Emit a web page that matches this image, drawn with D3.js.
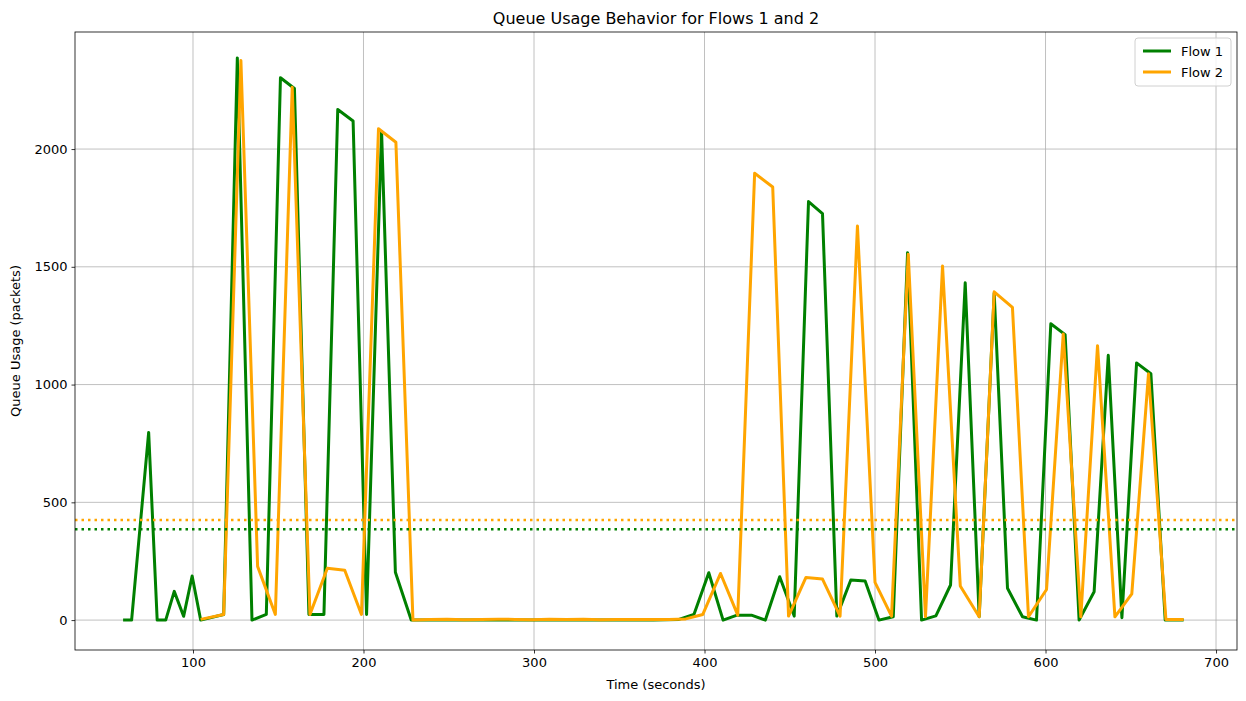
<!DOCTYPE html>
<html>
<head>
<meta charset="utf-8">
<script src="https://cdn.jsdelivr.net/npm/d3@7"></script>
<style>
  body { margin: 0; background: #fff; font-family: "DejaVu Sans", sans-serif; }
</style>
</head>
<body>
<svg id="chart"></svg>
<script>
// values
const flow1Time = [59, 64, 74, 79, 84, 89, 94.5, 99.5, 104.5, 118, 126, 134.6, 143, 151.3, 159.5, 168, 176.8, 184.9, 193.9, 201.8, 210.6, 218.7, 228,
  240, 250, 260, 270, 280, 290, 300, 310, 320, 330, 340, 350, 360, 370, 385, 393.8, 402.5, 410.9, 419.1, 427.5, 435.7, 444.1, 452.6,
  461, 469.2, 477.6, 485.8, 494.2, 502.3, 510.7, 519.1, 527.3, 535.7, 544.3, 552.9, 561.1, 569.9, 577.7, 586.5, 594.7, 603.1, 611.5,
  619.7, 628.5, 636.8, 644.8, 653.4, 661.8, 670.2, 681];
const flow1Usage = [0, 0, 797, 0, 0, 122, 16, 187, 0, 24, 2387, 0, 24, 2303, 2257, 24, 24, 2168, 2119, 24, 2075, 203, 0,
  0, 0, 0, 0, 0, 0, 0, 0, 0, 0, 0, 0, 0, 0, 3, 24, 201, 0, 21, 21, 0, 184, 17,
  1777, 1726, 17, 170, 166, 0, 14, 1560, 0, 18, 149, 1432, 14, 1389, 135, 14, 0, 1258, 1212,
  0, 120, 1124, 10, 1092, 1046, 0, 0];
const flow2Time = [104.5, 118, 128.1, 137.9, 148.3, 158.2, 168.6, 178.8, 189, 198.8, 208.8, 219, 229,
  239, 249, 259, 269, 279, 289, 299, 309, 319, 329, 339, 349, 359, 369, 379, 389, 399, 409.4, 419.5, 429.4, 440, 449.3,
  459.5, 469.2, 479.5, 489.7, 500, 509.7, 519.5, 529.6, 539.6, 550, 561.1, 569.9, 580.6, 590, 600.6, 610.4,
  620.7, 630.5, 640.7, 650.6, 660.4, 670.6, 681];
const flow2Usage = [3, 24, 2376, 228, 24, 2262, 24, 220, 212, 24, 2086, 2029, 0,
  3, 4, 1, 3, 4, 3, 1, 4, 2, 4, 1, 3, 3, 3, 3, 5, 24, 198, 21, 1897, 1839, 17,
  181, 174, 17, 1673, 160, 17, 1553, 14, 1503, 145, 14, 1394, 1328, 14, 130, 1215,
  14, 1165, 14, 111, 1046, 3, 3];
const flow1Mean = 386;
const flow2Mean = 425;
const xTicks = [100, 200, 300, 400, 500, 600, 700];
const yTicks = [0, 500, 1000, 1500, 2000];
const seriesNames = ['Flow 1', 'Flow 2'];
const seriesColors = ['green', 'orange'];

const W = 1246, H = 701;
const margin = { top: 32, right: 9, bottom: 51, left: 75 };
const width = W - margin.left - margin.right;
const height = H - margin.top - margin.bottom;

const svg = d3.select('#chart').attr('width', W).attr('height', H);
const g = svg.append('g').attr('transform', `translate(${margin.left},${margin.top})`);

const x = d3.scaleLinear().domain([30.8, 712.3]).range([0, width]);
const y = d3.scaleLinear().domain([-127, 2497]).range([height, 0]);

// grid
g.append('g').selectAll('line').data(xTicks).join('line')
  .attr('x1', d => x(d)).attr('x2', d => x(d)).attr('y1', 0).attr('y2', height)
  .attr('stroke', '#b0b0b0').attr('stroke-width', 0.8);
g.append('g').selectAll('line').data(yTicks).join('line')
  .attr('y1', d => y(d)).attr('y2', d => y(d)).attr('x1', 0).attr('x2', width)
  .attr('stroke', '#b0b0b0').attr('stroke-width', 0.8);

const line = d3.line().x(d => x(d[0])).y(d => y(d[1]));
const series = [d3.zip(flow1Time, flow1Usage), d3.zip(flow2Time, flow2Usage)];
series.forEach((s, i) => {
  g.append('path').datum(s).attr('d', line)
    .attr('fill', 'none').attr('stroke', seriesColors[i]).attr('stroke-width', 3)
    .attr('stroke-linejoin', 'round');
});

// mean lines
[flow1Mean, flow2Mean].forEach((m, i) => {
  g.append('line').attr('x1', 0).attr('x2', width).attr('y1', y(m)).attr('y2', y(m))
    .attr('stroke', seriesColors[i]).attr('stroke-width', 2.5).attr('stroke-dasharray', '2.5,4');
});

// frame and axes
g.append('rect').attr('width', width).attr('height', height)
  .attr('fill', 'none').attr('stroke', '#000').attr('stroke-width', 0.8);

const xAxis = g.append('g').attr('transform', `translate(0,${height})`)
  .call(d3.axisBottom(x).tickValues(xTicks).tickFormat(d3.format('d')).tickSize(3.5).tickPadding(4));
const yAxis = g.append('g')
  .call(d3.axisLeft(y).tickValues(yTicks).tickFormat(d3.format('d')).tickSize(3.5).tickPadding(4));
[xAxis, yAxis].forEach(a => {
  a.select('.domain').remove();
  a.selectAll('text').attr('font-size', 13).attr('font-family', 'DejaVu Sans').attr('fill', '#000');
  a.selectAll('line').attr('stroke', '#000').attr('stroke-width', 0.8);
});

svg.append('text').attr('x', margin.left + width / 2).attr('y', 689)
  .attr('text-anchor', 'middle').attr('font-size', 13).text('Time (seconds)');
svg.append('text').attr('transform', `translate(20,${margin.top + height / 2}) rotate(-90)`)
  .attr('text-anchor', 'middle').attr('font-size', 13).text('Queue Usage (packets)');
svg.append('text').attr('x', margin.left + width / 2).attr('y', 24)
  .attr('text-anchor', 'middle').attr('font-size', 16).text('Queue Usage Behavior for Flows 1 and 2');

// legend
const lg = g.append('g').attr('transform', `translate(${width - 102},6)`);
lg.append('rect').attr('width', 96).attr('height', 48).attr('rx', 3)
  .attr('fill', '#fff').attr('fill-opacity', 0.8).attr('stroke', '#d0d0d0');
seriesNames.forEach((n, i) => {
  const yy = 13 + i * 21;
  lg.append('line').attr('x1', 8).attr('x2', 36).attr('y1', yy).attr('y2', yy)
    .attr('stroke', seriesColors[i]).attr('stroke-width', 3);
  lg.append('text').attr('x', 46).attr('y', yy + 4.5).attr('font-size', 13).text(n);
});
</script>
</body>
</html>
